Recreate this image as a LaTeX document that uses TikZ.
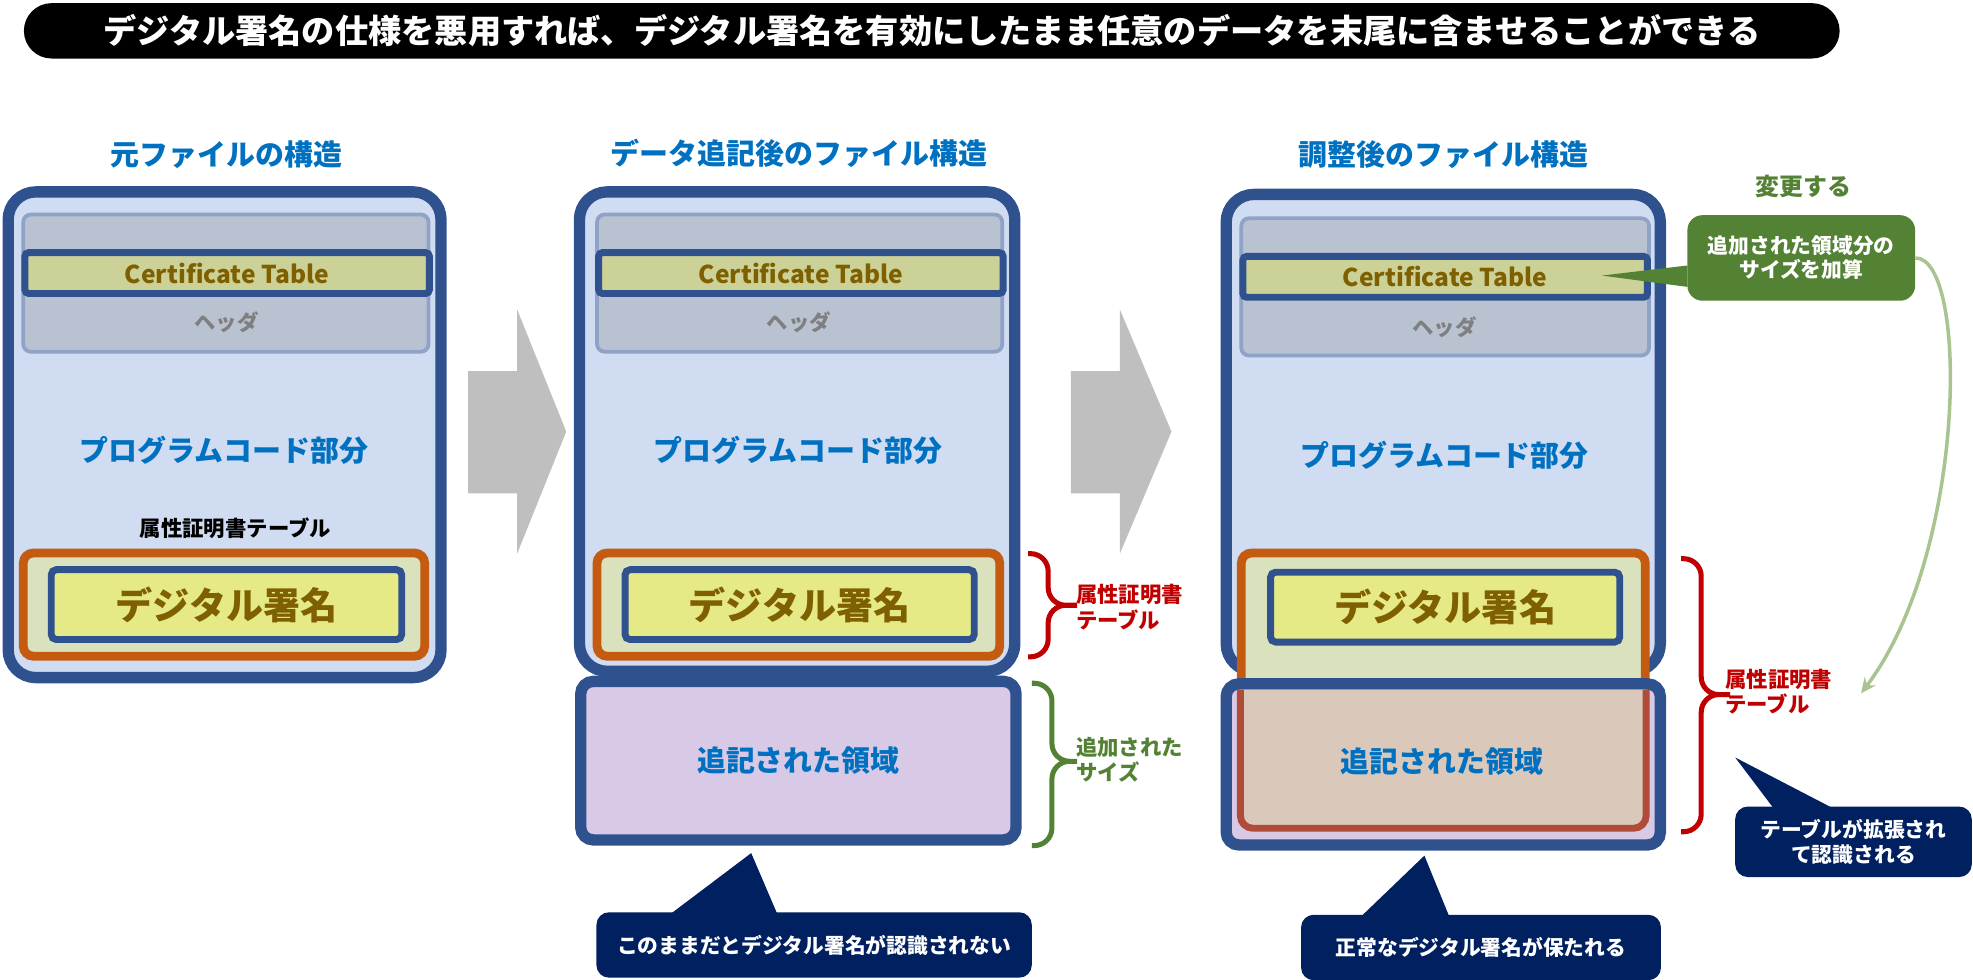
\documentclass[tikz,border=0pt]{standalone}
\usepackage{fontspec}
\setmainfont{Noto Sans CJK JP}
\usepackage{tikz}
\usetikzlibrary{arrows.meta}
\usetikzlibrary{positioning}

\definecolor{boxblue}{RGB}{47,82,143}
\definecolor{boxfill}{RGB}{208,220,241}
\definecolor{hdrfill}{RGB}{185,194,209}
\definecolor{hdredge}{RGB}{143,163,199}
\definecolor{hdrgray}{RGB}{127,127,127}
\definecolor{certfill}{RGB}{204,209,151}
\definecolor{sigbrown}{RGB}{127,96,0}
\definecolor{attrorange}{RGB}{197,90,17}
\definecolor{attrfill}{RGB}{218,226,189}
\definecolor{sigfill}{RGB}{229,234,135}
\definecolor{addfill}{RGB}{216,202,230}
\definecolor{tanfill}{RGB}{218,200,187}
\definecolor{tanedge}{RGB}{174,76,56}
\definecolor{headblue}{RGB}{0,112,192}
\definecolor{attrred}{RGB}{192,0,0}
\definecolor{chggreen}{RGB}{84,130,53}
\definecolor{curvegreen}{RGB}{169,196,145}
\definecolor{navy}{RGB}{0,32,96}
\definecolor{arrowgray}{RGB}{191,191,191}

\tikzset{
  titlebar/.style={fill=black, text=white, rounded corners=22pt, minimum width=1443pt, minimum height=44pt, font=\bfseries\fontsize{26.4}{30}\selectfont},
  heading/.style={text=headblue, inner sep=0pt, font=\bfseries\fontsize{23}{27}\selectfont},
  filebox/.style={draw=boxblue, line width=9pt, fill=boxfill, rounded corners=22pt},
  hdrbox/.style={draw=hdredge, line width=3pt, fill=hdrfill, rounded corners=6pt},
  certbox/.style={draw=boxblue, line width=5.5pt, fill=certfill, rounded corners=3pt, text=sigbrown, font=\bfseries\fontsize{19.5}{23}\selectfont},
  hdrtext/.style={text=hdrgray, inner sep=0pt, font=\bfseries\fontsize{17}{20}\selectfont},
  codetext/.style={text=headblue, inner sep=0pt, font=\bfseries\fontsize{23}{27}\selectfont},
  smalltext/.style={inner sep=0pt, font=\bfseries\fontsize{17}{20}\selectfont},
  attrbox/.style={draw=attrorange, line width=7pt, fill=attrfill, rounded corners=8pt},
  attrline/.style={draw=attrorange, line width=7pt, rounded corners=8pt},
  sigbox/.style={draw=boxblue, line width=5.5pt, fill=sigfill, rounded corners=4pt, text=sigbrown, font=\bfseries\fontsize{29.5}{34}\selectfont},
  addbox/.style={draw=boxblue, line width=9pt, fill=addfill, rounded corners=10pt, text=headblue, font=\bfseries\fontsize{23}{27}\selectfont},
  tanline/.style={draw=tanedge, line width=5.5pt, rounded corners=10pt},
  bracered/.style={draw=attrred, line width=4pt, rounded corners=14pt},
  bracegreen/.style={draw=chggreen, line width=4pt, rounded corners=14pt},
  bracelabel/.style={anchor=west, inner sep=0pt, align=left, font=\bfseries\fontsize{17}{20}\selectfont},
  notebox/.style={fill=navy, text=white, rounded corners=10pt, align=center, font=\bfseries\fontsize{16.5}{20}\selectfont},
  chgbox/.style={fill=chggreen, text=white, rounded corners=12pt, align=center, font=\bfseries\fontsize{16.5}{19}\selectfont},
  chghead/.style={text=chggreen, inner sep=0pt, font=\bfseries\fontsize{19}{22}\selectfont},
  chgarrow/.style={draw=curvegreen, line width=2.8pt, -{Stealth[length=12pt,width=11pt]}},
  blockarrow/.style={fill=arrowgray},
}

\begin{document}
\begin{tikzpicture}[x=1pt,y=-1pt]
        \useasboundingbox (0,0) rectangle (1568,778.8);
        \node[titlebar] (title) at (740.5,24.5) {デジタル署名の仕様を悪用すれば、デジタル署名を有効にしたまま任意のデータを末尾に含ませることができる};
        \node[heading] (headA) at (180,123) {元ファイルの構造};
        \node[heading] (headB) at (635,122) {データ追記後のファイル構造};
        \node[heading] (headC) at (1147,123) {調整後のファイル構造};

        % original file
        \node[filebox, minimum width=344pt, minimum height=386pt] (fileA) at (178.5,345.5) {};
        \node[hdrbox, minimum width=322pt, minimum height=109pt] (hdrA) at (179.5,225) {};
        \node[certbox, minimum width=321.5pt, minimum height=32.5pt] (certA) at (180.5,217) {Certificate Table};
        \node[hdrtext] (hdrtxtA) at (180,256) {ヘッダ};
        \node[codetext] (codeA) at (178,358) {プログラムコード部分};
        \node[smalltext] (attrtxtA) at (187,420) {属性証明書テーブル};
        \node[attrbox, minimum width=319pt, minimum height=82pt] (attrA) at (178,480.5) {};
        \node[sigbox, minimum width=278.5pt, minimum height=55.5pt] (sigA) at (180,480.5) {デジタル署名};

        \fill[blockarrow] (372,295) -- (411,295) -- (411,246) -- (450,343) -- (411,440) -- (411,392) -- (372,392) -- cycle;

        % file with appended data
        \node[filebox, minimum width=346pt, minimum height=381pt] (fileB) at (633.5,343) {};
        \node[hdrbox, minimum width=322pt, minimum height=109pt] (hdrB) at (635.5,225) {};
        \node[certbox, minimum width=321.5pt, minimum height=32.5pt] (certB) at (636.5,217) {Certificate Table};
        \node[hdrtext] (hdrtxtB) at (635,256) {ヘッダ};
        \node[codetext] (codeB) at (634,358) {プログラムコード部分};
        \node[attrbox, minimum width=320pt, minimum height=82pt] (attrB) at (634.5,480.5) {};
        \node[sigbox, minimum width=277.5pt, minimum height=55.5pt] (sigB) at (635.5,480.5) {デジタル署名};
        \node[addbox, minimum width=346pt, minimum height=126pt] (addB) at (634.5,604.5) {追記された領域};

        \draw[bracered] (817,440) -- (833,440) -- (833,481) -- (856,481) (817,522) -- (833,522) -- (833,481) -- (856,481);
        \node[bracelabel, text=attrred] (attrtxtB) at (855,482.5) {属性証明書\\テーブル};
        \draw[bracegreen] (820,543) -- (836,543) -- (836,605) -- (856,605) (820,672) -- (836,672) -- (836,605) -- (856,605);
        \node[bracelabel, text=chggreen] (addtxtB) at (855,604) {追加された\\サイズ};

        \fill[navy] (532,727) -- (597,678) -- (618,727) -- cycle;
        \node[notebox, minimum width=346pt, minimum height=52pt] (noteB) at (647,751) {このままだとデジタル署名が認識されない};

        \fill[blockarrow] (851,295) -- (890,295) -- (890,246) -- (931,343) -- (890,440) -- (890,392) -- (851,392) -- cycle;

        % adjusted file
        \node[filebox, minimum width=345pt, minimum height=379pt] (fileC) at (1147,344) {};
        \node[hdrbox, minimum width=324pt, minimum height=109pt] (hdrC) at (1148.5,228) {};
        \node[certbox, minimum width=321.5pt, minimum height=32.5pt] (certC) at (1148.5,220) {Certificate Table};
        \node[hdrtext] (hdrtxtC) at (1148,260) {ヘッダ};
        \node[codetext] (codeC) at (1148,362) {プログラムコード部分};
        \filldraw[attrline, fill=attrfill] (986.5,545) -- (986.5,439.5) -- (1307.5,439.5) -- (1307.5,545);
        \node[sigbox, minimum width=277.5pt, minimum height=55.5pt] (sigC) at (1148.5,482.5) {デジタル署名};
        \node[addbox, minimum width=345pt, minimum height=128pt] (addC) at (1147,607.5) {};
        \filldraw[tanline, fill=tanfill] (985.75,548) -- (985.75,658.25) -- (1308.25,658.25) -- (1308.25,548);
        \node[codetext] (addtxtC) at (1146,605) {追記された領域};

        \draw[bracered] (1336,444) -- (1352,444) -- (1352,552) -- (1375,552) (1336,661) -- (1352,661) -- (1352,552) -- (1375,552);
        \node[bracelabel, text=attrred] (attrtxtC) at (1371,549.5) {属性証明書\\テーブル};

        \fill[chggreen] (1341,211) -- (1273,219) -- (1341,228) -- cycle;
        \node[chgbox, minimum width=181pt, minimum height=68pt] (noteChg) at (1431.5,205) {追加された領域分の\\サイズを加算};
        \node[chghead] (chgHead) at (1433,148) {変更する};
        \coordinate (chgTip) at (1479,551);
        \draw[chgarrow] (noteChg.east) .. controls (1565,205) and (1563,440) .. (chgTip);

        \fill[navy] (1379,602) -- (1410,643) -- (1458,643) -- cycle;
        \node[notebox, minimum width=188pt, minimum height=56pt] (noteExp) at (1473,669) {テーブルが拡張され\\て認識される};
        \fill[navy] (1081,729) -- (1132,680) -- (1152,729) -- cycle;
        \node[notebox, minimum width=286pt, minimum height=52pt] (noteC) at (1177,753) {正常なデジタル署名が保たれる};
    \end{tikzpicture}
\end{document}
